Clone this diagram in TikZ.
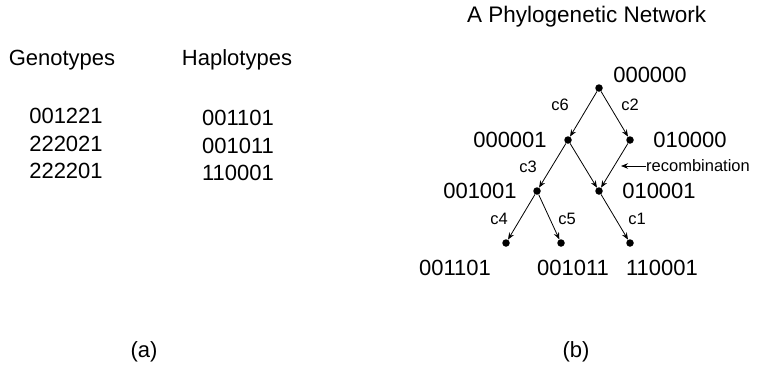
\documentclass[tikz,border=0pt]{standalone}
\usepackage{fontspec}
\setmainfont{Liberation Sans}
\usetikzlibrary{arrows.meta}
\begin{document}
\begin{tikzpicture}[x=1bp,y=-1bp,
  big/.style={font=\fontsize{22bp}{26bp}\selectfont, inner sep=0pt},
  small/.style={font=\fontsize{16.5bp}{20bp}\selectfont, inner sep=0pt},
  dot/.style={circle, fill=black, inner sep=0pt, minimum size=7.5bp},
  edge/.style={draw=black, line width=0.8bp, -{Stealth[length=7bp,width=5.5bp]}}]
\useasboundingbox (0,0) rectangle (759,365);
% title
\node[font=\fontsize{22.5bp}{27bp}\selectfont, inner sep=0pt, anchor=base west] (title) at (467,22) {A Phylogenetic Network};
% left panel
\node[big, anchor=base] (geno) at (62,65) {Genotypes};
\node[big, anchor=base] (hapl) at (237,65) {Haplotypes};
\node[big, anchor=base] (g1) at (66,123) {001221};
\node[big, anchor=base] (g2) at (66,151) {222021};
\node[big, anchor=base] (g3) at (66,178) {222201};
\node[big, anchor=base] (h1) at (238,125) {001101};
\node[big, anchor=base] (h2) at (238,153) {001011};
\node[big, anchor=base] (h3) at (238,180) {110001};
\node[big, anchor=base] (la) at (144,357) {(a)};
\node[big, anchor=base] (lb) at (576,357) {(b)};
% tree dots
\node[dot] (R) at (599,88) {};
\node[dot] (A) at (568,140) {};
\node[dot] (B) at (630,140) {};
\node[dot] (C) at (537,191) {};
\node[dot] (D) at (599,191) {};
\node[dot] (E) at (506,243) {};
\node[dot] (F) at (561,243) {};
\node[dot] (G) at (630,243) {};
% tree labels
\node[big, anchor=base] (tR) at (650,82) {000000};
\node[big, anchor=base] (tA) at (510,147) {000001};
\node[big, anchor=base] (tB) at (690,147) {010000};
\node[big, anchor=base] (tC) at (480,198) {001001};
\node[big, anchor=base] (tD) at (659,198) {010001};
\node[big, anchor=base] (tE) at (455,275) {001101};
\node[big, anchor=base] (tF) at (573,275) {001011};
\node[big, anchor=base] (tG) at (662,275) {110001};
% edges
\draw[edge] (R) -- (A);
\draw[edge] (R) -- (B);
\draw[edge] (A) -- (C);
\draw[edge] (A) -- (D);
\draw[edge] (B) -- (D);
\draw[edge] (C) -- (E);
\draw[edge] (C) -- (F);
\draw[edge] (D) -- (G);
% edge labels
\node[small] (c6) at (560,105) {c6};
\node[small] (c2) at (630,105) {c2};
\node[small] (c3) at (528,167) {c3};
\node[small] (c4) at (499,219) {c4};
\node[small] (c5) at (567,219) {c5};
\node[small] (c1) at (637,219) {c1};
% recombination
\node[small, anchor=west] (rec) at (646,166) {recombination};
\coordinate (recend) at (621,166);
\draw[edge] (rec.west) -- (recend);
\end{tikzpicture}
\end{document}
